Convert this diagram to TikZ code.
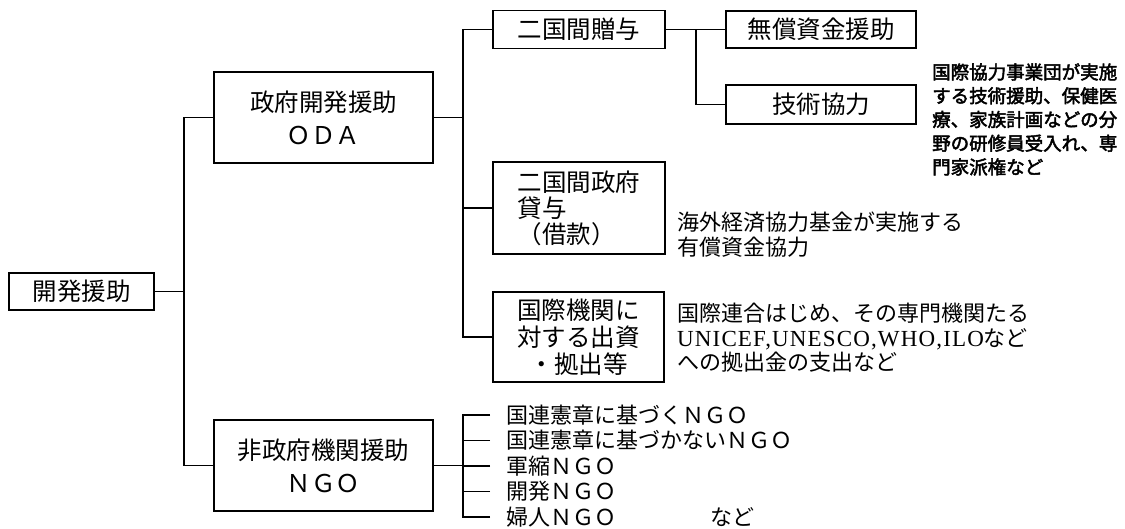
\documentclass[tikz,border=0pt]{standalone}
\usepackage{fontspec}
\setmainfont{Noto Sans CJK JP}
\newfontfamily\lat{Liberation Serif}[LetterSpace=5.0]
\newfontfamily\goth{Noto Sans CJK JP}[FakeBold=2.5]
\tikzset{
  box/.style={draw, line width=1.1pt, inner sep=0pt, align=center, font=\fontsize{24.5}{33}\selectfont},
  conn/.style={line width=1.1pt},
  note/.style={inner sep=0pt, anchor=west, align=left, font=\fontsize{22}{24.5}\selectfont},
  tnote/.style={inner sep=0pt, anchor=west, align=left, font=\goth\fontsize{18.5}{23.75}\selectfont},
  item/.style={inner sep=0pt, anchor=west, font=\fontsize{22}{24}\selectfont}
}
\begin{document}
\begin{tikzpicture}[x=1pt, y=-1pt]
\useasboundingbox (0,0) rectangle (1125,528);
% boxes
\node[box, minimum width=145pt, minimum height=37pt] (root) at (81.5,291.5) {開発援助};
\node[box, minimum width=219pt, minimum height=91pt] (oda) at (323.5,117.5) {政府開発援助\\ＯＤＡ};
\node[box, minimum width=219pt, minimum height=91pt] (ngo) at (323.5,465.5) {非政府機関援助\\ＮＧＯ};
\node[box, minimum width=172pt, minimum height=38pt] (bilat) at (579,29.5) {二国間贈与};
\node[box, minimum width=190pt, minimum height=37pt] (grant) at (821,29.5) {無償資金援助};
\node[box, minimum width=190pt, minimum height=39pt] (tech) at (821,104.5) {技術協力};
\node[box, minimum width=172pt, minimum height=92pt, align=left, font=\fontsize{24.5}{26}\selectfont] (loan) at (579,208) {二国間政府\\貸与\\（借款）};
\node[box, minimum width=171pt, minimum height=90pt, font=\fontsize{24.5}{27}\selectfont] (intl) at (578.5,337) {国際機関に\\対する出資\\・拠出等};
% notes
\node[tnote] (technote) at (932,119.5) {国際協力事業団が実施\\する技術援助、保健医\\療、家族計画などの分\\野の研修員受入れ、専\\門家派権など};
\node[note] (loannote) at (677,234.5) {海外経済協力基金が実施する\\有償資金協力};
\node[note] (intlnote) at (677,338) {国際連合はじめ、その専門機関たる\\{\lat\fontsize{23}{24.5}\selectfont UNICEF,UNESCO,WHO,ILO}など\\への拠出金の支出など};
% NGO list
\node[item] (n1) at (506,415) {国連憲章に基づくＮＧＯ};
\node[item] (n2) at (506,440.5) {国連憲章に基づかないＮＧＯ};
\node[item] (n3) at (506,466) {軍縮ＮＧＯ};
\node[item] (n4) at (506,491.5) {開発ＮＧＯ};
\node[item] (n5) at (506,517) {婦人ＮＧＯ};
\node[item] (etc) at (710,517) {など};
% junctions
\coordinate (j1) at (184,291.5);
\coordinate (j2) at (463,117.5);
\coordinate (j3) at (696,29.5);
\coordinate (j4) at (463,465.5);
% connectors
\draw[conn] (root.east) -- (j1);
\draw[conn] (oda.west) -| (j1);
\draw[conn] (ngo.west) -| (j1);
\draw[conn] (oda.east) -- (j2);
\draw[conn] (bilat.west) -| (j2);
\draw[conn] (loan.west) -| (j2);
\draw[conn] (intl.west) -| (j2);
\draw[conn] (bilat.east) -- (grant.west);
\draw[conn] (tech.west) -| (j3);
\draw[conn] (ngo.east) -- (j4);
\draw[conn] ([xshift=-16pt]n1.west) -| (j4);
\draw[conn] ([xshift=-16pt]n2.west) -| (j4);
\draw[conn] ([xshift=-16pt]n3.west) -| (j4);
\draw[conn] ([xshift=-16pt]n4.west) -| (j4);
\draw[conn] ([xshift=-16pt]n5.west) -| (j4);
\end{tikzpicture}
\end{document}
